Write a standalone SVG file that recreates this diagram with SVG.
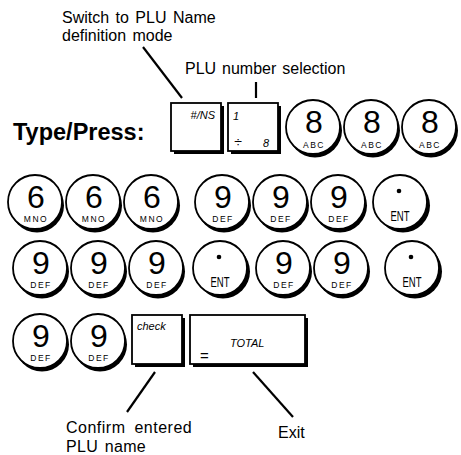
<svg xmlns="http://www.w3.org/2000/svg" width="461" height="455" viewBox="0 0 461 455">
<style>
text{font-family:"Liberation Sans",Arial,sans-serif;fill:#000}
.lbl{font-size:16px}
.title{font-size:23.5px;font-weight:bold}
.sh{fill:#000}
.face{fill:#fff;stroke:#000;stroke-width:1.8}
.dig{font-size:32px;text-anchor:middle}
.sub{font-size:8.5px;letter-spacing:1.5px;text-anchor:middle}
.ent{font-size:15px;text-anchor:middle}
.kt{font-style:italic;font-size:11px}
.conn line{stroke:#000;stroke-width:2.2;stroke-linecap:butt}
</style>
<rect width="461" height="455" fill="#fff"/>

<!-- labels -->
<g id="label-switch">
<text class="lbl" x="62" y="23" word-spacing="2">Switch to PLU Name</text>
<text class="lbl" x="62" y="41" word-spacing="2">definition mode</text>
</g>
<g id="label-plu-number"><text class="lbl" x="185" y="74" word-spacing="1.5">PLU number selection</text></g>
<g id="label-type"><text class="title" x="13" y="140">Type/Press:</text></g>
<g id="label-confirm">
<text class="lbl" x="66" y="433" font-size="16.5" letter-spacing="0.5" word-spacing="4">Confirm entered</text>
<text class="lbl" x="66" y="452" font-size="16.5" letter-spacing="0.3" word-spacing="2">PLU name</text>
</g>
<g id="label-exit"><text class="lbl" x="278" y="438">Exit</text></g>

<!-- connectors -->
<g id="connectors" class="conn">
<line x1="143" y1="47" x2="182" y2="98"/>
<line x1="256" y1="82" x2="256" y2="98"/>
<line x1="155" y1="372" x2="127" y2="412"/>
<line x1="253" y1="372" x2="293" y2="417"/>
</g>

<!-- row 1 keys -->
<g id="key-ins">
<rect class="sh" x="174" y="106" width="50" height="48"/>
<rect class="face" x="171" y="103" width="50" height="48"/>
<text class="kt" x="215" y="119" text-anchor="end" font-size="10">#/NS</text>
</g>
<g id="key-plu">
<rect class="sh" x="231" y="106" width="50" height="48"/>
<rect class="face" x="228" y="103" width="50" height="48"/>
<text class="kt" x="233" y="120" font-size="14">1</text>
<text x="238" y="147" font-size="14" text-anchor="middle">÷</text>
<text class="kt" x="263" y="147" font-size="15">8</text>
</g>
<g id="key-8a"><circle class="sh" cx="315" cy="130.5" r="27"/><circle class="face" cx="313" cy="127" r="27"/><text class="dig" x="314" y="133">8</text><text class="sub" x="314" y="148">ABC</text></g>
<g id="key-8b"><circle class="sh" cx="373" cy="130.5" r="27"/><circle class="face" cx="371" cy="127" r="27"/><text class="dig" x="372" y="133">8</text><text class="sub" x="372" y="148">ABC</text></g>
<g id="key-8c"><circle class="sh" cx="431" cy="130.5" r="27"/><circle class="face" cx="429" cy="127" r="27"/><text class="dig" x="430" y="133">8</text><text class="sub" x="430" y="148">ABC</text></g>

<!-- row 2 -->
<g id="key-6a"><circle class="sh" cx="37" cy="205.5" r="27"/><circle class="face" cx="35" cy="202" r="27"/><text class="dig" x="36" y="208">6</text><text class="sub" x="36" y="222">MNO</text></g>
<g id="key-6b"><circle class="sh" cx="95" cy="205.5" r="27"/><circle class="face" cx="93" cy="202" r="27"/><text class="dig" x="94" y="208">6</text><text class="sub" x="94" y="222">MNO</text></g>
<g id="key-6c"><circle class="sh" cx="153" cy="205.5" r="27"/><circle class="face" cx="151" cy="202" r="27"/><text class="dig" x="152" y="208">6</text><text class="sub" x="152" y="222">MNO</text></g>
<g id="key-9a"><circle class="sh" cx="224" cy="205.5" r="27"/><circle class="face" cx="222" cy="202" r="27"/><text class="dig" x="223" y="208">9</text><text class="sub" x="223" y="222">DEF</text></g>
<g id="key-9b"><circle class="sh" cx="282" cy="205.5" r="27"/><circle class="face" cx="280" cy="202" r="27"/><text class="dig" x="281" y="208">9</text><text class="sub" x="281" y="222">DEF</text></g>
<g id="key-9c"><circle class="sh" cx="340" cy="205.5" r="27"/><circle class="face" cx="338" cy="202" r="27"/><text class="dig" x="339" y="208">9</text><text class="sub" x="339" y="222">DEF</text></g>
<g id="key-ent1"><circle class="sh" cx="403" cy="205.5" r="27"/><circle class="face" cx="400" cy="202" r="27"/><circle cx="399" cy="191" r="2.3"/><text class="ent" x="400" y="221" textLength="19" lengthAdjust="spacingAndGlyphs">ENT</text></g>

<!-- row 3 -->
<g id="key-9d"><circle class="sh" cx="42" cy="271.5" r="27"/><circle class="face" cx="40" cy="268" r="27"/><text class="dig" x="41" y="274">9</text><text class="sub" x="41" y="288">DEF</text></g>
<g id="key-9e"><circle class="sh" cx="100" cy="271.5" r="27"/><circle class="face" cx="98" cy="268" r="27"/><text class="dig" x="99" y="274">9</text><text class="sub" x="99" y="288">DEF</text></g>
<g id="key-9f"><circle class="sh" cx="158" cy="271.5" r="27"/><circle class="face" cx="156" cy="268" r="27"/><text class="dig" x="157" y="274">9</text><text class="sub" x="157" y="288">DEF</text></g>
<g id="key-ent2"><circle class="sh" cx="223" cy="271.5" r="27"/><circle class="face" cx="220" cy="268" r="27"/><circle cx="219" cy="257" r="2.3"/><text class="ent" x="220" y="287" textLength="19" lengthAdjust="spacingAndGlyphs">ENT</text></g>
<g id="key-9g"><circle class="sh" cx="285" cy="271.5" r="27"/><circle class="face" cx="283" cy="268" r="27"/><text class="dig" x="284" y="274">9</text><text class="sub" x="284" y="288">DEF</text></g>
<g id="key-9h"><circle class="sh" cx="343" cy="271.5" r="27"/><circle class="face" cx="341" cy="268" r="27"/><text class="dig" x="342" y="274">9</text><text class="sub" x="342" y="288">DEF</text></g>
<g id="key-ent3"><circle class="sh" cx="415" cy="271.5" r="27"/><circle class="face" cx="412" cy="268" r="27"/><circle cx="411" cy="257" r="2.3"/><text class="ent" x="412" y="287" textLength="19" lengthAdjust="spacingAndGlyphs">ENT</text></g>

<!-- row 4 -->
<g id="key-9i"><circle class="sh" cx="42" cy="344.5" r="27"/><circle class="face" cx="40" cy="341" r="27"/><text class="dig" x="41" y="347">9</text><text class="sub" x="41" y="361">DEF</text></g>
<g id="key-9j"><circle class="sh" cx="100" cy="344.5" r="27"/><circle class="face" cx="98" cy="341" r="27"/><text class="dig" x="99" y="347">9</text><text class="sub" x="99" y="361">DEF</text></g>
<g id="key-check">
<rect class="sh" x="135" y="318" width="50" height="49"/>
<rect class="face" x="132" y="315" width="50" height="49"/>
<text class="kt" x="137" y="330" font-size="10">check</text>
</g>
<g id="key-total">
<rect class="sh" x="193" y="318" width="115" height="49"/>
<rect class="face" x="190" y="315" width="115" height="49"/>
<text class="kt" x="230" y="347" font-size="12">TOTAL</text>
<text x="200" y="361" font-size="15">=</text>
</g>
</svg>
